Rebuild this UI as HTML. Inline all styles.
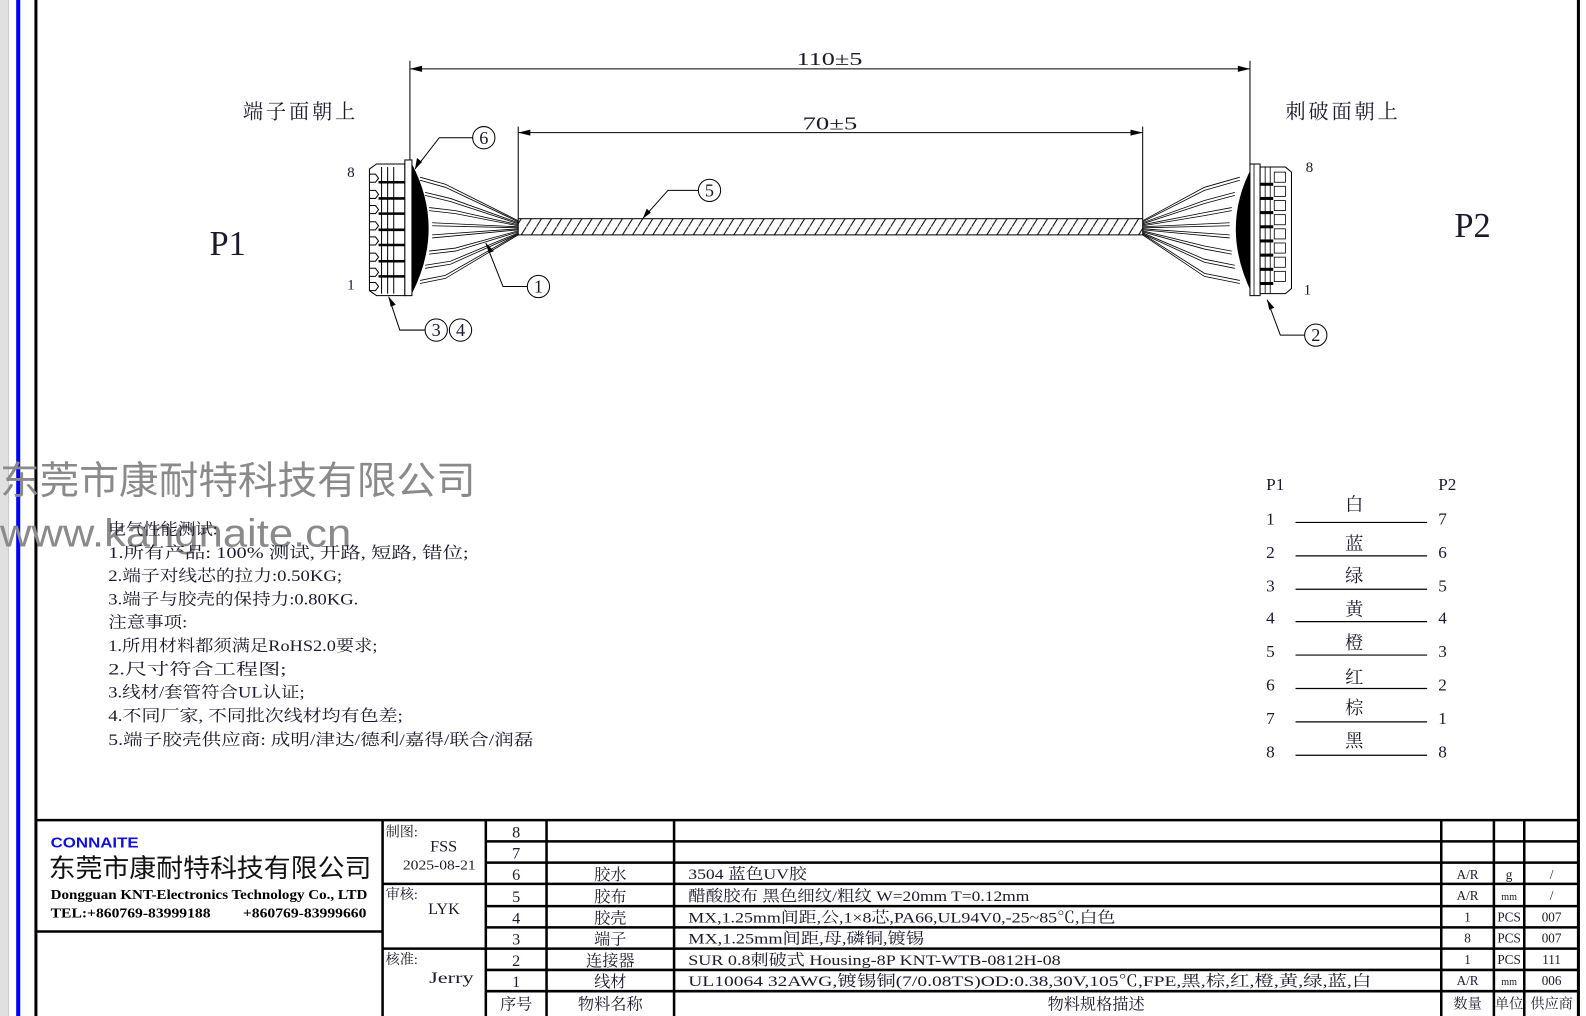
<!DOCTYPE html>
<html><head><meta charset="utf-8"><style>
html,body{margin:0;padding:0;background:#fff;}
svg{display:block;}
text{font-family:"Liberation Serif","Noto Serif CJK SC","Noto Sans CJK SC",serif;fill:#1a1a2e;}
</style></head><body>
<svg width="1586" height="1016" viewBox="0 0 1567 1003.5" preserveAspectRatio="none" xmlns="http://www.w3.org/2000/svg">
<rect x="0" y="0" width="8" height="1004" fill="#e0e0e0"/>
<line x1="8.5" y1="0" x2="8.5" y2="1004" stroke="#c8c8c8"/>
<rect x="16" y="0" width="4" height="1004" fill="#0000ff"/>
<rect x="34" y="0" width="3" height="1004" fill="#000"/>
<rect x="1558" y="0" width="3" height="1004" fill="#000"/>

<!-- dimensions -->
<g stroke="#000" stroke-width="1" fill="none">
<line x1="405" y1="60" x2="405" y2="160"/><line x1="1235" y1="60" x2="1235" y2="165"/>
<line x1="405" y1="68" x2="1235" y2="68"/>
<line x1="512" y1="125" x2="512" y2="216"/><line x1="1129" y1="125" x2="1129" y2="216"/>
<line x1="512" y1="131" x2="1129" y2="131"/>
</g>
<g fill="#000">
<path d="M405,68 l12,-3 v6z"/><path d="M1235,68 l-12,-3 v6z"/>
<path d="M512,131 l12,-3 v6z"/><path d="M1129,131 l-12,-3 v6z"/>
</g>
<text x="787" y="64" font-size="18" textLength="65" lengthAdjust="spacingAndGlyphs">110±5</text>
<text x="793" y="128" font-size="18" textLength="54" lengthAdjust="spacingAndGlyphs">70±5</text>
<text x="240" y="117" font-size="20" textLength="111">端子面朝上</text>
<text x="1270" y="117" font-size="20" textLength="111">刺破面朝上</text>
<text x="207" y="252" font-size="34">P1</text>
<text x="1437" y="234" font-size="34">P2</text>

<!-- cable -->
<defs><pattern id="h" width="10" height="16" patternUnits="userSpaceOnUse"><line x1="0" y1="16" x2="10" y2="0" stroke="#000" stroke-width="1"/></pattern></defs>
<rect x="512" y="216" width="617" height="16" fill="url(#h)" stroke="#000" stroke-width="1"/>

<!-- wires P1 -->
<g stroke="#000" stroke-width="0.8" fill="none">
<path d="M415,175 L440,182 L512,218"/><path d="M415,178 L440,185 L512,219"/>
<path d="M420,190 L445,196 L512,220"/><path d="M420,193 L445,199 L512,221"/>
<path d="M424,205 L450,208 L512,222"/><path d="M424,208 L450,211 L512,223"/>
<path d="M427,220 L512,224"/><path d="M427,223 L512,225"/>
<path d="M427,232 L512,226"/><path d="M427,235 L512,227"/>
<path d="M424,248 L450,245 L512,228"/><path d="M424,251 L450,248 L512,229"/>
<path d="M420,262 L445,258 L512,230"/><path d="M420,265 L445,261 L512,231"/>
<path d="M415,277 L440,272 L512,231"/><path d="M415,280 L440,275 L512,232"/>
</g>
<!-- wires P2 -->
<g stroke="#000" stroke-width="0.8" fill="none">
<path d="M1129,218 L1190,185 L1225,175"/><path d="M1129,219 L1190,188 L1225,178"/>
<path d="M1129,220 L1190,198 L1220,190"/><path d="M1129,221 L1190,201 L1220,193"/>
<path d="M1129,222 L1190,210 L1217,205"/><path d="M1129,223 L1190,213 L1217,208"/>
<path d="M1129,224 L1215,220"/><path d="M1129,225 L1215,223"/>
<path d="M1129,226 L1215,232"/><path d="M1129,227 L1215,235"/>
<path d="M1129,228 L1190,243 L1217,248"/><path d="M1129,229 L1190,246 L1217,251"/>
<path d="M1129,230 L1190,256 L1220,262"/><path d="M1129,231 L1190,259 L1220,265"/>
<path d="M1129,231 L1190,270 L1225,277"/><path d="M1129,232 L1190,273 L1225,280"/>
</g>

<!-- P1 connector -->
<g stroke="#000" stroke-width="1" fill="#fff">
<path d="M365,167 L372,162 L400,162 L400,292 L372,292 L365,287 Z"/>
<rect x="400" y="158" width="7" height="134"/>
</g>
<path d="M407,162 Q440,225 407,290 Z" fill="#000"/>
<g stroke="#000" stroke-width="1" fill="none">
<line x1="377" y1="165" x2="377" y2="290"/><line x1="383" y1="165" x2="383" y2="290"/><line x1="389" y1="165" x2="389" y2="290"/>
<path d="M365,172 h6 l3,4 l-3,4 h-6"/><path d="M365,188 h6 l3,4 l-3,4 h-6"/><path d="M365,203 h6 l3,4 l-3,4 h-6"/><path d="M365,219 h6 l3,4 l-3,4 h-6"/>
<path d="M365,234 h6 l3,4 l-3,4 h-6"/><path d="M365,250 h6 l3,4 l-3,4 h-6"/><path d="M365,265 h6 l3,4 l-3,4 h-6"/><path d="M365,279 h6 l3,4 l-3,4 h-6"/>
</g>
<g stroke="#000" stroke-width="2.5">
<line x1="374" y1="180" x2="400" y2="180"/><line x1="374" y1="196" x2="400" y2="196"/><line x1="374" y1="211" x2="400" y2="211"/><line x1="374" y1="227" x2="400" y2="227"/>
<line x1="374" y1="242" x2="400" y2="242"/><line x1="374" y1="258" x2="400" y2="258"/><line x1="374" y1="273" x2="400" y2="273"/>
</g>
<text x="343" y="175" font-size="15">8</text>
<text x="343" y="286" font-size="15">1</text>

<!-- P2 connector -->
<path d="M1237,165 Q1205,225 1237,290 Z" fill="#000"/>
<g stroke="#000" stroke-width="1" fill="#fff">
<rect x="1235" y="162" width="10" height="130"/>
<path d="M1245,165 L1270,165 L1276,170 L1276,285 L1270,290 L1245,290 Z"/>
</g>
<g stroke="#000" stroke-width="0.8" fill="none">
<line x1="1239" y1="162" x2="1239" y2="292"/><line x1="1250" y1="165" x2="1250" y2="290"/><line x1="1255" y1="165" x2="1255" y2="290"/>
<rect x="1259" y="170" width="11" height="10"/><rect x="1259" y="184" width="11" height="10"/><rect x="1259" y="198" width="11" height="10"/><rect x="1259" y="212" width="11" height="10"/>
<rect x="1259" y="226" width="11" height="10"/><rect x="1259" y="240" width="11" height="10"/><rect x="1259" y="254" width="11" height="10"/><rect x="1259" y="268" width="11" height="10"/>
</g>
<g stroke="#000" stroke-width="3">
<line x1="1245" y1="182" x2="1258" y2="182"/><line x1="1245" y1="196" x2="1258" y2="196"/><line x1="1245" y1="210" x2="1258" y2="210"/><line x1="1245" y1="224" x2="1258" y2="224"/>
<line x1="1245" y1="238" x2="1258" y2="238"/><line x1="1245" y1="252" x2="1258" y2="252"/><line x1="1245" y1="266" x2="1258" y2="266"/><line x1="1245" y1="280" x2="1258" y2="280"/>
</g>
<text x="1290" y="170" font-size="15">8</text>
<text x="1288" y="291" font-size="15">1</text>

<!-- balloons -->
<g stroke="#000" stroke-width="1" fill="none">
<polyline points="410,167 434,136 467,136"/><circle cx="478" cy="136" r="11"/>
<polyline points="480,240 497,283 521,283"/><circle cx="532" cy="283" r="11"/>
<polyline points="635,216 660,188 690,188"/><circle cx="701" cy="188" r="11"/>
<polyline points="384,293 395,326 420,326"/><circle cx="431" cy="326" r="11"/><circle cx="455" cy="326" r="11"/>
<polyline points="1252,296 1265,331 1289,331"/><circle cx="1300" cy="331" r="11"/>
</g>
<g fill="#000">
<path d="M410,167 l2,-11 l5,4z"/>
<path d="M480,240 l8,8 l-5,2z"/>
<path d="M635,216 l4,-10 l4,4z"/>
<path d="M384,293 l7,8 l-5,2z"/>
<path d="M1252,296 l7,8 l-5,2z"/>
</g>
<g font-size="18" text-anchor="middle">
<text x="478" y="142">6</text><text x="532" y="289">1</text><text x="701" y="194">5</text>
<text x="431" y="332">3</text><text x="455" y="332">4</text><text x="1300" y="337">2</text>
</g>

<!-- watermark -->
<text x="0" y="488" font-size="38" textLength="470" lengthAdjust="spacingAndGlyphs" style="font-family:'Noto Sans CJK SC',sans-serif;fill:#8a8a8a">东莞市康耐特科技有限公司</text>
<text x="0" y="540" font-size="38" textLength="347" lengthAdjust="spacingAndGlyphs" style="font-family:'Liberation Sans',sans-serif;fill:#8a8a8a">www.kangnaite.cn</text>

<!-- notes -->
<g font-size="16" lengthAdjust="spacingAndGlyphs">
<text x="107" y="528" textLength="108" lengthAdjust="spacingAndGlyphs">电气性能测试:</text>
<text x="107" y="551" textLength="356" lengthAdjust="spacingAndGlyphs">1.所有产品: 100% 测试, 开路, 短路, 错位;</text>
<text x="107" y="574" textLength="231" lengthAdjust="spacingAndGlyphs">2.端子对线芯的拉力:0.50KG;</text>
<text x="107" y="597" textLength="247" lengthAdjust="spacingAndGlyphs">3.端子与胶壳的保持力:0.80KG.</text>
<text x="107" y="620" textLength="78" lengthAdjust="spacingAndGlyphs">注意事项:</text>
<text x="107" y="643" textLength="266" lengthAdjust="spacingAndGlyphs">1.所用材料都须满足RoHS2.0要求;</text>
<text x="107" y="666" textLength="176" lengthAdjust="spacingAndGlyphs">2.尺寸符合工程图;</text>
<text x="107" y="689" textLength="194" lengthAdjust="spacingAndGlyphs">3.线材/套管符合UL认证;</text>
<text x="107" y="712" textLength="291" lengthAdjust="spacingAndGlyphs">4.不同厂家, 不同批次线材均有色差;</text>
<text x="107" y="736" textLength="420" lengthAdjust="spacingAndGlyphs">5.端子胶壳供应商: 成明/津达/德利/嘉得/联合/润磊</text>
</g>

<!-- wire table -->
<g font-size="17">
<text x="1251" y="484">P1</text><text x="1421" y="484">P2</text>
<text x="1251" y="518">1</text><text x="1421" y="518">7</text>
<text x="1251" y="551">2</text><text x="1421" y="551">6</text>
<text x="1251" y="584">3</text><text x="1421" y="584">5</text>
<text x="1251" y="616">4</text><text x="1421" y="616">4</text>
<text x="1251" y="649">5</text><text x="1421" y="649">3</text>
<text x="1251" y="682">6</text><text x="1421" y="682">2</text>
<text x="1251" y="715">7</text><text x="1421" y="715">1</text>
<text x="1251" y="748">8</text><text x="1421" y="748">8</text>
</g>
<g font-size="18" text-anchor="middle">
<text x="1338" y="504">白</text><text x="1338" y="543">蓝</text><text x="1338" y="575">绿</text><text x="1338" y="608">黄</text>
<text x="1338" y="641">橙</text><text x="1338" y="675">红</text><text x="1338" y="705">棕</text><text x="1338" y="738">黑</text>
</g>
<g stroke="#000" stroke-width="1.2">
<line x1="1280" y1="516" x2="1410" y2="516"/><line x1="1280" y1="549" x2="1410" y2="549"/>
<line x1="1280" y1="582" x2="1410" y2="582"/><line x1="1280" y1="614" x2="1410" y2="614"/>
<line x1="1280" y1="647" x2="1410" y2="647"/><line x1="1280" y1="680" x2="1410" y2="680"/>
<line x1="1280" y1="713" x2="1410" y2="713"/><line x1="1280" y1="746" x2="1410" y2="746"/>
</g>

<!-- title block -->
<g stroke="#000" stroke-width="2.5" fill="none">
<line x1="36" y1="810" x2="1560" y2="810"/>
<line x1="36" y1="920" x2="378" y2="920"/>
<line x1="378" y1="810" x2="378" y2="1004"/>
<line x1="378" y1="873" x2="480" y2="873"/><line x1="378" y1="937" x2="480" y2="937"/>
<line x1="480" y1="810" x2="480" y2="1004"/><line x1="540" y1="810" x2="540" y2="1004"/>
<line x1="666" y1="810" x2="666" y2="1004"/><line x1="1424" y1="810" x2="1424" y2="1004"/>
<line x1="1476" y1="810" x2="1476" y2="1004"/><line x1="1506" y1="810" x2="1506" y2="1004"/>
<line x1="480" y1="831" x2="1560" y2="831"/><line x1="480" y1="852" x2="1560" y2="852"/>
<line x1="480" y1="873" x2="1560" y2="873"/><line x1="480" y1="895" x2="1560" y2="895"/>
<line x1="480" y1="916" x2="1560" y2="916"/><line x1="480" y1="937" x2="1560" y2="937"/>
<line x1="480" y1="958" x2="1560" y2="958"/><line x1="480" y1="979" x2="1560" y2="979"/>
</g>
<text x="50" y="837" font-size="15" font-weight="bold" textLength="87" lengthAdjust="spacingAndGlyphs" style="font-family:'Liberation Sans',sans-serif;fill:#1010e0">CONNAITE</text>
<text x="48" y="866" font-size="25" textLength="319" lengthAdjust="spacingAndGlyphs" style="font-family:'Noto Sans CJK SC',sans-serif;fill:#111">东莞市康耐特科技有限公司</text>
<text x="50" y="888" font-size="13" font-weight="bold" textLength="313" lengthAdjust="spacingAndGlyphs" style="fill:#000">Dongguan KNT-Electronics Technology Co., LTD</text>
<text x="50" y="906" font-size="14" font-weight="bold" textLength="158" lengthAdjust="spacingAndGlyphs" style="fill:#000">TEL:+860769-83999188</text>
<text x="240" y="906" font-size="14" font-weight="bold" textLength="122" lengthAdjust="spacingAndGlyphs" style="fill:#000">+860769-83999660</text>
<g font-size="14">
<text x="381" y="826">制图:</text><text x="425" y="841" font-size="16">FSS</text><text x="398" y="859" font-size="13" textLength="72" lengthAdjust="spacingAndGlyphs">2025-08-21</text>
<text x="381" y="888">审核:</text><text x="423" y="903" font-size="16">LYK</text>
<text x="381" y="952">核准:</text><text x="424" y="971" font-size="16" textLength="44" lengthAdjust="spacingAndGlyphs">Jerry</text>
</g>
<g font-size="16" text-anchor="middle">
<text x="510" y="827">8</text><text x="510" y="848">7</text><text x="510" y="869">6</text><text x="510" y="891">5</text>
<text x="510" y="912">4</text><text x="510" y="933">3</text><text x="510" y="954">2</text><text x="510" y="975">1</text>
<text x="510" y="997">序号</text>
<text x="603" y="869">胶水</text><text x="603" y="891">胶布</text><text x="603" y="912">胶壳</text><text x="603" y="933">端子</text>
<text x="603" y="954">连接器</text><text x="603" y="975">线材</text><text x="603" y="997">物料名称</text>
<text x="1083" y="997">物料规格描述</text>
</g>
<g font-size="15">
<text x="680" y="868" textLength="117" lengthAdjust="spacingAndGlyphs">3504 蓝色UV胶</text>
<text x="680" y="890" textLength="337" lengthAdjust="spacingAndGlyphs">醋酸胶布 黑色细纹/粗纹  W=20mm T=0.12mm</text>
<text x="680" y="911" textLength="422" lengthAdjust="spacingAndGlyphs">MX,1.25mm间距,公,1×8芯,PA66,UL94V0,-25~85℃,白色</text>
<text x="680" y="932" textLength="233" lengthAdjust="spacingAndGlyphs">MX,1.25mm间距,母,磷铜,镀锡</text>
<text x="680" y="953" textLength="368" lengthAdjust="spacingAndGlyphs">SUR 0.8刺破式 Housing-8P KNT-WTB-0812H-08</text>
<text x="680" y="974" textLength="675" lengthAdjust="spacingAndGlyphs">UL10064 32AWG,镀锡铜(7/0.08TS)OD:0.38,30V,105℃,FPE,黑,棕,红,橙,黄,绿,蓝,白</text>
</g>
<g font-size="13" text-anchor="middle">
<text x="1450" y="868">A/R</text><text x="1450" y="889">A/R</text><text x="1450" y="910">1</text><text x="1450" y="931">8</text>
<text x="1450" y="952">1</text><text x="1450" y="973">A/R</text><text x="1450" y="996" font-size="14">数量</text>
<text x="1491" y="868">g</text><text x="1491" y="889" font-size="10">mm</text><text x="1491" y="910">PCS</text><text x="1491" y="931">PCS</text>
<text x="1491" y="952">PCS</text><text x="1491" y="973" font-size="10">mm</text><text x="1491" y="996" font-size="14">单位</text>
<text x="1533" y="868">/</text><text x="1533" y="889">/</text><text x="1533" y="910">007</text><text x="1533" y="931">007</text>
<text x="1533" y="952">111</text><text x="1533" y="973">006</text><text x="1533" y="996" font-size="14">供应商</text>
</g>
</svg>
</body></html>
